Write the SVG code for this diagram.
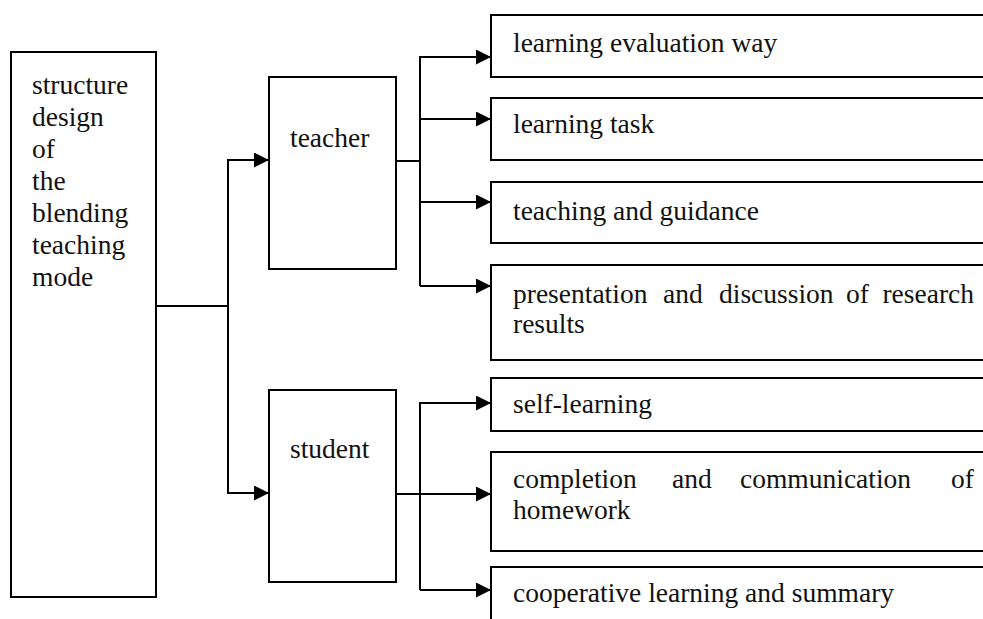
<svg xmlns="http://www.w3.org/2000/svg" width="983" height="619" viewBox="0 0 983 619">
<style>
.box{fill:#fff;stroke:#000;stroke-width:2}
.t{font-family:"Liberation Serif","Times New Roman",serif;font-size:27.5px;fill:#111}
.c{fill:none;stroke:#000;stroke-width:2}
</style>
<defs>
<marker id="arr" markerUnits="userSpaceOnUse" markerWidth="16" markerHeight="16" refX="15" refY="7.5" orient="auto">
<path d="M0,0 L15,7.5 L0,15 Z" fill="#000"/>
</marker>
</defs>
<rect width="983" height="619" fill="#fff"/>
<g id="connectors">
<polyline class="c" points="156,306 228,306"/>
<polyline class="c" points="228,306 228,160 269,160" marker-end="url(#arr)"/>
<polyline class="c" points="228,306 228,493 269,493" marker-end="url(#arr)"/>
<polyline class="c" points="396,161 420,161"/>
<polyline class="c" points="420,286 420,57 491,57" marker-end="url(#arr)"/>
<polyline class="c" points="420,119 491,119" marker-end="url(#arr)"/>
<polyline class="c" points="420,202 491,202" marker-end="url(#arr)"/>
<polyline class="c" points="420,286 491,286" marker-end="url(#arr)"/>
<polyline class="c" points="396,494 420,494"/>
<polyline class="c" points="420,590 420,403 491,403" marker-end="url(#arr)"/>
<polyline class="c" points="420,494 491,494" marker-end="url(#arr)"/>
<polyline class="c" points="420,590 491,590" marker-end="url(#arr)"/>
</g>
<g id="root">
<rect class="box" x="11" y="52" width="145" height="545"/>
<text class="t"><tspan x="32" y="94">structure</tspan><tspan x="32" y="126">design</tspan><tspan x="32" y="158">of</tspan><tspan x="32" y="190">the</tspan><tspan x="32" y="222">blending</tspan><tspan x="32" y="254">teaching</tspan><tspan x="32" y="286">mode</tspan></text>
</g>
<g id="teacher">
<rect class="box" x="269" y="77" width="127" height="192"/>
<text class="t" x="290" y="147">teacher</text>
</g>
<g id="student">
<rect class="box" x="269" y="390" width="127" height="192"/>
<text class="t" x="290" y="458">student</text>
</g>
<g id="evaluation">
<rect class="box" x="491" y="15" width="500" height="62"/>
<text class="t" x="513" y="52">learning evaluation way</text>
</g>
<g id="task">
<rect class="box" x="491" y="98" width="500" height="62"/>
<text class="t" x="513" y="133">learning task</text>
</g>
<g id="guidance">
<rect class="box" x="491" y="182" width="500" height="61"/>
<text class="t" x="513" y="220">teaching and guidance</text>
</g>
<g id="presentation">
<rect class="box" x="491" y="265" width="500" height="95"/>
<text class="t" y="303"><tspan x="513">presentation</tspan><tspan x="663">and</tspan><tspan x="719">discussion</tspan><tspan x="846">of</tspan></text>
<text class="t" x="974" y="303" text-anchor="end">research</text>
<text class="t" x="513" y="333">results</text>
</g>
<g id="self-learning">
<rect class="box" x="491" y="378" width="500" height="53"/>
<text class="t" x="513" y="413">self-learning</text>
</g>
<g id="homework">
<rect class="box" x="491" y="452" width="500" height="99"/>
<text class="t" y="488"><tspan x="513">completion</tspan><tspan x="672">and</tspan><tspan x="740">communication</tspan></text>
<text class="t" x="974" y="488" text-anchor="end">of</text>
<text class="t" x="513" y="519">homework</text>
</g>
<g id="cooperative">
<rect class="box" x="491" y="567" width="500" height="80"/>
<text class="t" x="513" y="602">cooperative learning and summary</text>
</g>
</svg>
